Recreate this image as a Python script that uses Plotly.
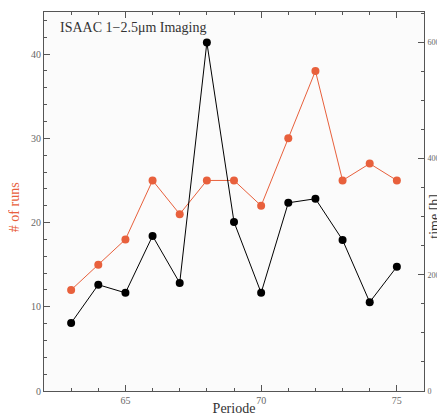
import plotly.graph_objects as go

periods = [63, 64, 65, 66, 67, 68, 69, 70, 71, 72, 73, 74, 75]
runs = [12, 15, 18, 25, 21, 25, 25, 22, 30, 38, 25, 27, 25]
hours = [117, 183, 169, 267, 186, 600, 291, 169, 324, 331, 260, 153, 214]

red = "#e8603c"
font_family = "Liberation Serif, DejaVu Serif, serif"

fig = go.Figure()
fig.add_trace(go.Scatter(x=periods, y=runs, mode="lines+markers",
                         line=dict(color=red, width=1),
                         marker=dict(color=red, size=8),
                         yaxis="y", showlegend=False))
fig.add_trace(go.Scatter(x=periods, y=hours, mode="lines+markers",
                         line=dict(color="black", width=1),
                         marker=dict(color="black", size=8),
                         yaxis="y2", showlegend=False))

axis_common = dict(showline=True, linecolor="#555", linewidth=1, showgrid=False,
                   zeroline=False, ticks="inside", ticklen=6, tickcolor="#555",
                   automargin=False)

fig.update_layout(
    width=437, height=408,
    margin=dict(l=36, r=21, t=4, b=25),
    paper_bgcolor="white", plot_bgcolor="#fbfbfb",
    font=dict(family=font_family),
    xaxis=dict(range=[62, 76], tickvals=[65, 70, 75], mirror="ticks",
               minor=dict(ticks="inside", dtick=1, tick0=0, ticklen=3, tickcolor="#555"),
               title=dict(text="Periode", font=dict(size=14, color="#333"), standoff=3),
               tickfont=dict(family=font_family, size=10, color="#666"),
               **axis_common),
    yaxis=dict(range=[0, 45], tickvals=[0, 10, 20, 30, 40],
               minor=dict(ticks="inside", dtick=2, tick0=0, ticklen=3, tickcolor="#555"),
               tickfont=dict(family=font_family, size=10, color="#666"),
               **axis_common),
    yaxis2=dict(range=[0, 652.5], tickvals=[0, 200, 400, 600], overlaying="y", side="right",
                minor=dict(ticks="inside", dtick=50, tick0=0, ticklen=3, tickcolor="#555"),
                tickfont=dict(family=font_family, size=8, color="#666"),
                ticklabelstandoff=1,
                **axis_common),
    annotations=[
        dict(text="ISAAC 1\u22122.5\u03bcm Imaging", xref="paper", yref="paper",
             x=0.036, y=0.985, xanchor="left", yanchor="top", showarrow=False,
             font=dict(family=font_family, size=14, color="#333")),
        dict(text="# of runs", xref="paper", yref="paper", x=-0.079, y=0.485,
             xanchor="center", yanchor="middle", textangle=-90, showarrow=False,
             font=dict(family=font_family, size=14, color=red)),
        dict(text="time [h]", xref="paper", yref="paper", x=1.029, y=0.46,
             xanchor="center", yanchor="middle", textangle=-90, showarrow=False,
             font=dict(family=font_family, size=14, color="#333")),
    ],
)

fig.write_html("out.html")
